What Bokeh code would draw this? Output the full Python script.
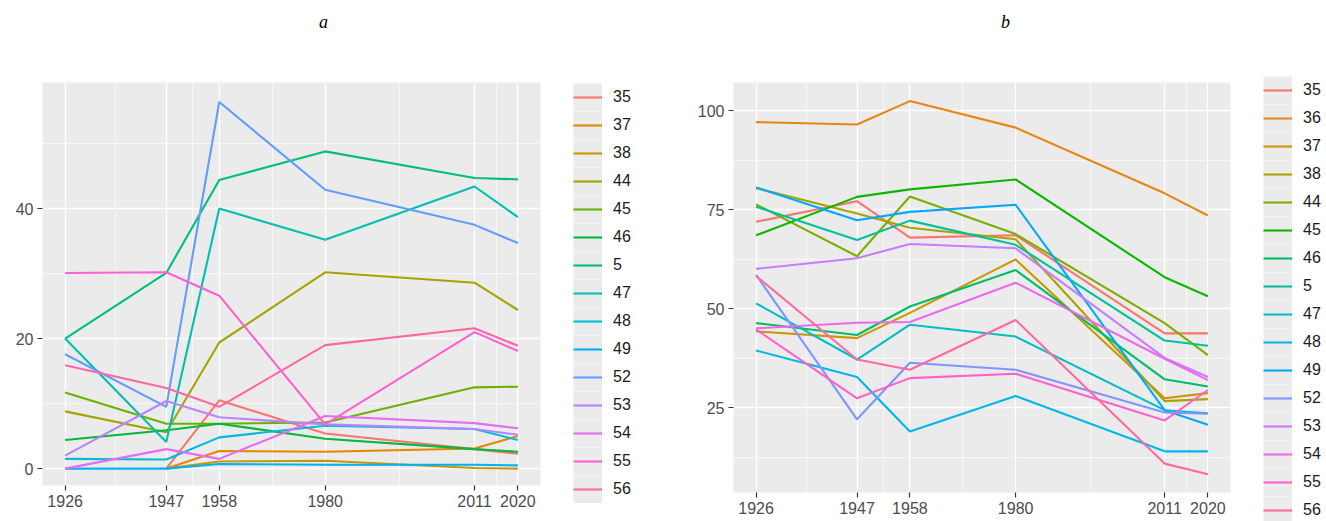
from bokeh.plotting import figure
from bokeh.layouts import row, column
from bokeh.models import FixedTicker, Legend, LegendItem, Range1d, Div
from bokeh.embed import file_html
from bokeh.resources import INLINE

NaN = float("nan")

years = [1926, 1947, 1958, 1980, 2011, 2020]
year_minor = [1936.5, 1952.5, 1969, 1995.5, 2015.5]
panel_titles = ["a", "b"]

# ---- panel a ----
a_labels = ["35", "37", "38", "44", "45", "46", "5", "47", "48", "49", "52", "53", "54", "55", "56"]
a_35 = [NaN, 0.0, 10.5, 5.4, 3.0, 2.3]
a_37 = [NaN, 0.0, 2.7, 2.6, 3.1, 5.0]
a_38 = [NaN, 0.0, 1.1, 1.2, 0.1, 0.0]
a_44 = [8.8, 5.6, 19.4, 30.2, 28.6, 24.4]
a_45 = [11.7, 6.9, 6.9, 7.1, 12.5, 12.6]
a_46 = [4.4, 5.9, 6.9, 4.6, 3.0, 2.6]
a_5 = [20.0, 30.1, 44.4, 48.8, 44.7, 44.5]
a_47 = [20.0, 4.1, 40.0, 35.2, 43.4, 38.7]
a_48 = [1.5, 1.4, 4.8, 6.6, 6.1, 4.4]
a_49 = [0.0, 0.0, 0.7, 0.6, 0.6, 0.5]
a_52 = [17.6, 9.5, 56.4, 42.9, 37.5, 34.7]
a_53 = [2.0, 10.4, 7.9, 6.8, 6.1, 5.2]
a_54 = [0.0, 3.0, 1.5, 8.1, 7.0, 6.2]
a_55 = [30.1, 30.2, 26.6, 6.8, 21.0, 18.1]
a_56 = [15.9, 12.4, 9.5, 19.0, 21.6, 18.9]
a_series = [a_35, a_37, a_38, a_44, a_45, a_46, a_5, a_47, a_48, a_49, a_52, a_53, a_54, a_55, a_56]
a_colors = ["#F8766D", "#E58700", "#C99800", "#A3A500", "#6BB100", "#00BA38", "#00BF7D", "#00C0AF",
            "#00BCD8", "#00B0F6", "#619CFF", "#B983FF", "#E76BF3", "#FD61D1", "#FF67A4"]
a_yticks = [0, 20, 40]
a_yminor = [-10, 10, 30, 50]

# ---- panel b ----
b_labels = ["35", "36", "37", "38", "44", "45", "46", "5", "47", "48", "49", "52", "53", "54", "55", "56"]
b_35 = [72.0, 77.2, 68.0, 68.6, 43.8, 43.8]
b_36 = [97.2, 96.6, 102.5, 95.8, 79.2, 73.6]
b_37 = [44.3, 42.6, 49.0, 62.5, 27.4, 28.7]
b_38 = [80.5, 74.1, 70.5, 67.6, 26.7, 27.2]
b_44 = [76.4, 63.3, 78.4, 68.9, 46.4, 38.3]
b_45 = [68.6, 78.3, 80.2, 82.7, 58.0, 53.2]
b_46 = [46.4, 43.4, 50.6, 59.8, 32.2, 30.4]
b_5 = [75.8, 67.4, 72.3, 66.2, 42.0, 40.7]
b_47 = [51.4, 37.2, 46.0, 43.0, 24.4, 23.6]
b_48 = [39.5, 32.8, 19.0, 28.0, 14.0, 14.0]
b_49 = [80.7, 72.4, 74.5, 76.3, 24.4, 20.7]
b_52 = [58.6, 22.1, 36.4, 34.6, 23.8, 23.5]
b_53 = [60.1, 62.8, 66.4, 65.3, 37.6, 32.8]
b_54 = [45.1, 46.5, 46.7, 56.6, 37.4, 32.0]
b_55 = [44.8, 27.4, 32.5, 33.6, 21.8, 29.5]
b_56 = [58.3, 37.2, 34.6, 47.2, 10.9, 8.2]
b_series = [b_35, b_36, b_37, b_38, b_44, b_45, b_46, b_5, b_47, b_48, b_49, b_52, b_53, b_54, b_55, b_56]
b_colors = ["#F8766D", "#E68613", "#CD9600", "#ABA300", "#7CAE00", "#0CB702", "#00BE67", "#00C19A",
            "#00BFC4", "#00B8E7", "#00A9FF", "#8494FF", "#C77CFF", "#ED68ED", "#FF61CC", "#FF68A1"]
b_yticks = [25, 50, 75, 100]
b_yminor = [12.5, 37.5, 62.5, 87.5]

FONT = "Liberation Sans"
TOP = 45          # height of the title strip
H = 521 - TOP     # height of the plot row


def make_panel(series, colors, yticks, yminor, yrange, width, bl, br, bt, bb):
    p = figure(width=width, height=H, output_backend="svg", toolbar_location=None,
               x_range=Range1d(1921.3, 2024.7), y_range=Range1d(*yrange),
               min_border_left=bl, min_border_right=br, min_border_top=bt, min_border_bottom=bb)
    p.background_fill_color = "#EBEBEB"
    p.border_fill_color = "white"
    p.outline_line_color = None

    p.xaxis.ticker = FixedTicker(ticks=years, minor_ticks=year_minor)
    p.yaxis.ticker = FixedTicker(ticks=yticks, minor_ticks=yminor)
    for ax in (p.xaxis[0], p.yaxis[0]):
        ax.axis_line_color = None
        ax.major_tick_line_color = "#333333"
        ax.major_tick_line_width = 1.2
        ax.major_tick_out = 5
        ax.major_tick_in = 0
        ax.minor_tick_line_color = None
        ax.major_label_text_font = FONT
        ax.major_label_text_font_size = "16px"
        ax.major_label_text_color = "#4D4D4D"
        ax.major_label_standoff = 4
    for g in (p.xgrid[0], p.ygrid[0]):
        g.grid_line_color = "white"
        g.grid_line_width = 1.3
        g.minor_grid_line_color = "white"
        g.minor_grid_line_width = 0.6

    for ys, col in zip(series, colors):
        p.line(x=years, y=ys, line_color=col, line_width=2.1)
    return p


def make_legend(labels, colors, width, loc, key_h):
    lf = figure(width=width, height=H, output_backend="svg", toolbar_location=None,
                x_range=Range1d(0, 1), y_range=Range1d(0, 1),
                x_axis_type=None, y_axis_type=None, min_border=0)
    lf.outline_line_color = None
    lf.background_fill_color = "white"
    lf.border_fill_color = "white"
    lf.xgrid.visible = False
    lf.ygrid.visible = False
    # key background and key lines (their data lies outside the view; only the legend shows them)
    bg = lf.line(x=[5, 6], y=[5, 5], line_color="#EBEBEB", line_width=key_h)
    items = []
    for lab, col in zip(labels, colors):
        r = lf.line(x=[5, 6], y=[5, 5], line_color=col, line_width=2.1)
        items.append(LegendItem(label=lab, renderers=[bg, r]))
    leg = Legend(items=items, location=loc, orientation="vertical",
                 glyph_width=29, glyph_height=key_h, label_height=key_h, spacing=0,
                 padding=0, margin=0, label_standoff=11,
                 label_text_font=FONT, label_text_font_size="16px", label_text_color="#1A1A1A",
                 label_text_baseline="middle",
                 background_fill_alpha=0, border_line_color=None)
    lf.add_layout(leg, "center")
    return lf


title_html = (
    '<div style="position:relative;width:1326px;height:%dpx;'
    'font-family:\'Liberation Serif\',serif;font-style:italic;font-size:18px;color:#000;">'
    '<span style="position:absolute;left:319px;top:10px;">%s</span>'
    '<span style="position:absolute;left:1001px;top:10px;">%s</span>'
    '</div>' % (TOP, panel_titles[0], panel_titles[1])
)
titles = Div(text=title_html, width=1326, height=TOP, margin=0)

pa = make_panel(a_series, a_colors, a_yticks, a_yminor, (-2.6, 59.4),
                560, 42, 20, 82 - TOP, 36)
la = make_legend(a_labels, a_colors, 90, (13, 18), 28)
pb = make_panel(b_series, b_colors, b_yticks, b_yminor, (3.6, 107.2),
                590, 83, 10, 82 - TOP, 29)
lb = make_legend(b_labels, b_colors, 86, (23, -3), 28)

layout = column(titles, row(column(pa), column(la), column(pb), column(lb)))
open("out.html", "w").write(file_html(layout, INLINE))
